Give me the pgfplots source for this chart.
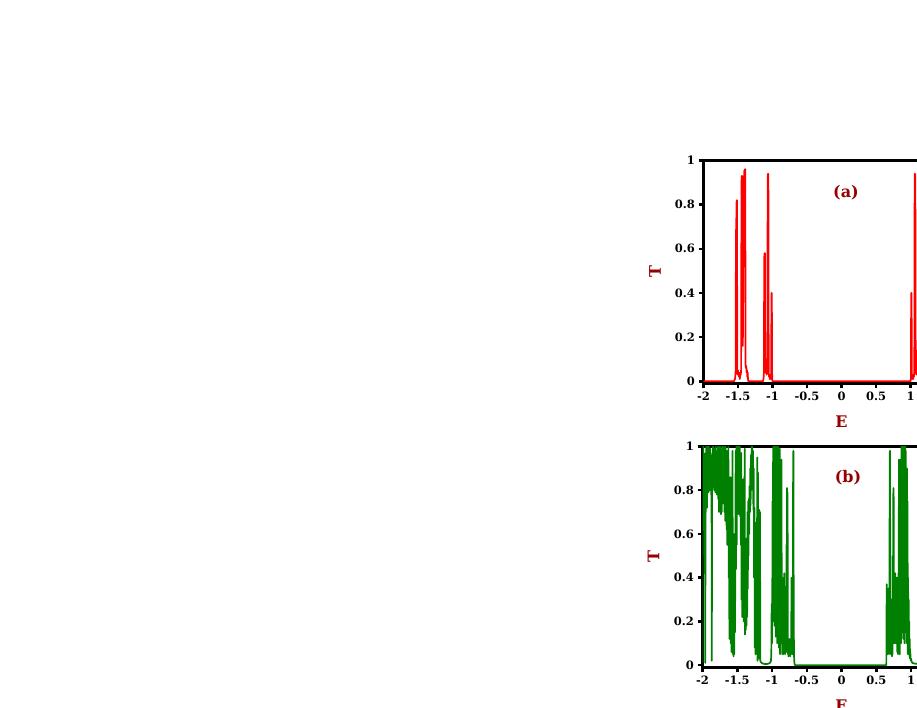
\documentclass[border=0pt]{standalone}
\usepackage{fontspec}
\setmainfont{DejaVu Serif}
\usepackage{pgfplots}
\pgfplotsset{compat=1.18}
\definecolor{lblred}{RGB}{150,0,0}
\definecolor{plotgreen}{RGB}{0,128,0}
\pgfplotsset{myax/.style={
  scale only axis, xmin=-2, xmax=2, ymin=-0.01, ymax=1,
  separate axis lines,
  axis line style={line width=3pt, line cap=rect, black},
  tick align=outside, xtick pos=left, ytick pos=left,
  major tick length=5pt,
  tick style={line width=2.5pt, black},
  xtick={-2,-1.5,-1,-0.5,0,0.5,1,1.5,2},
  xticklabels={-2,-1.5,-1,-0.5,0,0.5,1,1.5,2},
  ytick={0,0.2,0.4,0.6,0.8,1},
  yticklabels={0,0.2,0.4,0.6,0.8,1},
  ticklabel style={font=\fontsize{11.5}{13}\selectfont\bfseries},
  xlabel={E}, ylabel={T},
  label style={font=\fontsize{16}{18}\selectfont\bfseries, text=lblred},
  ylabel style={at={(axis description cs:-0.176,0.5)}, anchor=center},
}}
\begin{document}
\begin{tikzpicture}[x=1pt,y=1pt]
\path[use as bounding box] (0,0) rectangle (917,708);
\fill[white] (0,0) rectangle (917,708);
\clip (0,0) rectangle (917,708);
% ---------- (a) ----------
\begin{axis}[myax, at={(703.5pt,324.5pt)}, anchor=south west,
  width=276pt, height=223pt,
  xlabel style={at={(axis description cs:0.5,-0.17)}, anchor=center}]
\addplot[red, line width=1.7pt, line join=round] coordinates {
(-2.000,0) (-1.560,0) (-1.545,0.01) (-1.540,0.02) (-1.535,0.04) (-1.530,0.66)
(-1.525,0.72) (-1.520,0.82) (-1.515,0.82) (-1.510,0.05) (-1.505,0.03) (-1.500,0.05)
(-1.495,0.03) (-1.490,0.04) (-1.485,0.02) (-1.480,0.03) (-1.475,0.01) (-1.470,0.02)
(-1.465,0.04) (-1.460,0.03) (-1.455,0.05) (-1.450,0.90) (-1.445,0.93) (-1.440,0.93)
(-1.430,0.16) (-1.420,0.60) (-1.410,0.95) (-1.400,0.96) (-1.395,0.96) (-1.390,0.07)
(-1.385,0.06) (-1.380,0.07) (-1.375,0.04) (-1.370,0.05) (-1.365,0.02) (-1.360,0.04)
(-1.355,0.01) (-1.350,0) (-1.140,0) (-1.130,0.01) (-1.125,0.04) (-1.120,0.56)
(-1.115,0.58) (-1.110,0.58) (-1.105,0.04) (-1.100,0.07) (-1.095,0.10) (-1.090,0.06)
(-1.085,0.03) (-1.080,0.08) (-1.075,0.05) (-1.070,0.93) (-1.065,0.94) (-1.060,0.94)
(-1.055,0.04) (-1.050,0.02) (-1.045,0.03) (-1.040,0.01) (-1.035,0.02) (-1.030,0.03)
(-1.025,0.01) (-1.020,0.02) (-1.015,0.40) (-1.010,0.40) (-1.005,0.01) (-1.000,0)
(1.000,0) (1.005,0.01) (1.010,0.40) (1.015,0.40) (1.020,0.02) (1.025,0.01)
(1.030,0.03) (1.035,0.02) (1.040,0.01) (1.045,0.03) (1.050,0.02) (1.055,0.04)
(1.060,0.94) (1.065,0.94) (1.070,0.93) (1.075,0.05) (1.080,0.08) (1.085,0.03)
(1.090,0.06) (1.095,0.10) (1.100,0.07) (1.105,0.04) (1.110,0.58) (1.115,0.58)
(1.120,0.56) (1.125,0.04) (1.130,0.01) (1.140,0)
};
\node[font=\fontsize{16}{18}\selectfont\bfseries, text=lblred] at (axis cs:0.065,0.852) {(a)};
\end{axis}
% ---------- (b) ----------
\begin{axis}[myax, at={(702.5pt,40.7pt)}, anchor=south west,
  width=278pt, height=220.8pt,
  xlabel style={at={(axis description cs:0.5,-0.172)}, anchor=center}]
\addplot[plotgreen, line width=1.7pt, line join=round] coordinates {
(-2.000,0.01) (-1.996,0.99) (-1.992,0.82) (-1.988,1.00) (-1.984,0.75) (-1.980,0.97)
(-1.976,0.62) (-1.972,0.90) (-1.968,0.68) (-1.964,0.60) (-1.960,0.01) (-1.956,0.92)
(-1.952,0.70) (-1.948,1.00) (-1.944,0.78) (-1.940,0.97) (-1.935,0.72) (-1.930,1.00)
(-1.925,0.80) (-1.920,0.95) (-1.915,0.79) (-1.910,1.00) (-1.905,0.84) (-1.900,0.98)
(-1.895,0.80) (-1.890,0.99) (-1.885,0.82) (-1.880,0.96) (-1.875,0.78) (-1.870,0.80)
(-1.866,0.02) (-1.862,0.85) (-1.858,0.97) (-1.853,0.82) (-1.848,1.00) (-1.843,0.84)
(-1.838,0.96) (-1.833,0.80) (-1.828,0.99) (-1.823,0.83) (-1.818,0.95) (-1.813,0.79)
(-1.808,1.00) (-1.803,0.86) (-1.798,0.97) (-1.793,0.78) (-1.788,0.93) (-1.783,0.81)
(-1.778,1.00) (-1.773,0.76) (-1.768,0.95) (-1.763,0.70) (-1.758,0.88) (-1.753,0.72)
(-1.748,1.00) (-1.743,0.79) (-1.738,0.97) (-1.733,0.69) (-1.728,0.91) (-1.723,0.70)
(-1.718,1.00) (-1.713,0.85) (-1.708,0.98) (-1.703,0.74) (-1.698,1.00) (-1.693,0.81)
(-1.688,0.94) (-1.683,0.70) (-1.678,0.97) (-1.673,0.66) (-1.668,1.00) (-1.663,0.69)
(-1.658,0.85) (-1.653,0.62) (-1.648,0.98) (-1.643,0.55) (-1.638,0.77) (-1.633,0.60)
(-1.628,1.00) (-1.623,0.40) (-1.618,0.66) (-1.613,0.12) (-1.608,0.58) (-1.603,0.30)
(-1.598,0.86) (-1.593,0.10) (-1.588,0.45) (-1.583,0.06) (-1.578,0.72) (-1.573,0.15)
(-1.568,0.98) (-1.563,0.05) (-1.558,0.35) (-1.553,0.04) (-1.548,0.12) (-1.543,0.05)
(-1.538,0.60) (-1.533,0.15) (-1.528,0.42) (-1.523,0.98) (-1.518,0.44) (-1.513,1.00)
(-1.508,0.55) (-1.503,0.96) (-1.498,0.70) (-1.493,1.00) (-1.488,0.75) (-1.483,0.98)
(-1.478,0.69) (-1.473,0.93) (-1.468,0.71) (-1.463,1.00) (-1.458,0.68) (-1.453,0.85)
(-1.448,0.55) (-1.443,0.97) (-1.438,0.30) (-1.433,0.80) (-1.428,0.22) (-1.423,0.70)
(-1.418,0.45) (-1.413,0.85) (-1.408,0.20) (-1.403,0.65) (-1.398,0.55) (-1.393,0.99)
(-1.388,0.14) (-1.383,0.30) (-1.378,0.16) (-1.373,0.45) (-1.368,0.18) (-1.363,0.58)
(-1.358,0.22) (-1.353,0.70) (-1.348,0.35) (-1.343,0.75) (-1.338,0.50) (-1.333,0.76)
(-1.328,0.60) (-1.323,0.82) (-1.318,0.70) (-1.313,0.90) (-1.308,0.73) (-1.303,0.96)
(-1.298,0.80) (-1.293,1.00) (-1.288,0.95) (-1.283,1.00) (-1.278,0.85) (-1.273,0.98)
(-1.268,0.71) (-1.263,0.90) (-1.258,0.40) (-1.253,0.72) (-1.248,0.08) (-1.243,0.30)
(-1.238,0.05) (-1.233,0.65) (-1.228,0.10) (-1.223,0.50) (-1.218,0.07) (-1.213,0.95)
(-1.208,0.02) (-1.203,0.88) (-1.198,0.06) (-1.193,0.70) (-1.188,0.03) (-1.183,0.71)
(-1.178,0.04) (-1.173,0.70) (-1.168,0.02) (-1.163,0.015) (-1.155,0.012) (-1.140,0.008)
(-1.120,0.006) (-1.100,0.005) (-1.080,0.005) (-1.060,0.006) (-1.040,0.008) (-1.025,0.012)
(-1.015,0.02) (-1.010,0.05) (-1.005,0.28) (-1.000,0.10) (-0.996,0.30) (-0.992,0.75)
(-0.988,0.20) (-0.984,1.00) (-0.980,0.40) (-0.976,0.99) (-0.972,0.25) (-0.968,0.85)
(-0.964,0.18) (-0.960,1.00) (-0.956,0.30) (-0.952,0.95) (-0.948,0.13) (-0.944,0.70)
(-0.940,0.20) (-0.936,1.00) (-0.932,0.45) (-0.928,0.98) (-0.924,0.10) (-0.920,0.60)
(-0.916,0.25) (-0.912,1.00) (-0.908,0.35) (-0.904,0.90) (-0.900,0.08) (-0.896,0.50)
(-0.892,0.20) (-0.888,0.99) (-0.884,0.05) (-0.880,0.41) (-0.876,0.15) (-0.872,0.80)
(-0.868,0.10) (-0.864,0.94) (-0.860,0.30) (-0.856,0.40) (-0.852,0.05) (-0.848,0.38)
(-0.844,0.12) (-0.840,0.35) (-0.836,0.05) (-0.832,0.40) (-0.828,0.30) (-0.824,0.42)
(-0.820,0.08) (-0.816,0.36) (-0.812,0.05) (-0.808,0.25) (-0.804,0.10) (-0.800,0.30)
(-0.796,0.06) (-0.792,0.55) (-0.788,0.12) (-0.784,0.81) (-0.780,0.30) (-0.776,0.79)
(-0.772,0.05) (-0.768,0.10) (-0.764,0.04) (-0.760,0.08) (-0.756,0.05) (-0.752,0.12)
(-0.748,0.05) (-0.744,0.09) (-0.740,0.04) (-0.736,0.10) (-0.732,0.06) (-0.728,0.12)
(-0.724,0.05) (-0.720,0.40) (-0.716,0.06) (-0.712,0.20) (-0.708,0.05) (-0.704,0.08)
(-0.700,0.05) (-0.696,0.97) (-0.692,0.98) (-0.688,0.30) (-0.684,0.05) (-0.680,0.02)
(-0.675,0.004) (-0.670,0) (0.645,0) (0.650,0.37) (0.654,0.10) (0.658,0.20)
(0.662,0.05) (0.666,0.12) (0.670,0.06) (0.674,0.35) (0.678,0.08) (0.682,0.15)
(0.686,0.05) (0.690,0.40) (0.694,0.97) (0.698,0.98) (0.702,0.30) (0.706,0.10)
(0.710,0.05) (0.714,0.25) (0.718,0.08) (0.722,0.30) (0.726,0.04) (0.730,0.12)
(0.734,0.05) (0.738,0.50) (0.742,0.15) (0.746,0.81) (0.750,0.80) (0.754,0.10)
(0.758,0.40) (0.762,0.20) (0.766,0.38) (0.770,0.10) (0.774,0.42) (0.778,0.25)
(0.782,0.36) (0.786,0.10) (0.790,0.40) (0.794,0.12) (0.798,0.34) (0.802,0.06)
(0.806,0.40) (0.810,0.30) (0.814,0.05) (0.818,0.42) (0.822,0.10) (0.826,0.94)
(0.830,0.06) (0.834,0.50) (0.838,0.05) (0.842,0.93) (0.846,0.94) (0.850,0.20)
(0.854,0.60) (0.858,0.10) (0.862,1.00) (0.866,0.25) (0.870,0.99) (0.874,0.15)
(0.878,0.80) (0.882,0.20) (0.886,1.00) (0.890,0.12) (0.894,0.90) (0.898,0.30)
(0.902,1.00) (0.906,0.10) (0.910,0.70) (0.914,0.20) (0.918,1.00) (0.922,0.35)
(0.926,0.98) (0.930,0.15) (0.934,0.85) (0.938,0.10) (0.942,0.90) (0.946,0.20)
(0.950,0.75) (0.954,0.05) (0.958,0.40) (0.962,0.08) (0.966,0.30) (0.970,0.05)
(0.974,0.20) (0.978,0.04) (0.982,0.12) (0.986,0.03) (0.990,0.06) (0.995,0.02)
(1.000,0.03) (1.010,0.015) (1.020,0.01) (1.040,0.008) (1.070,0.006) (1.100,0.006)
(1.130,0.008)
};
\node[font=\fontsize{16}{18}\selectfont\bfseries, text=lblred] at (axis cs:0.094,0.857) {(b)};
\end{axis}
\end{tikzpicture}
\end{document}
